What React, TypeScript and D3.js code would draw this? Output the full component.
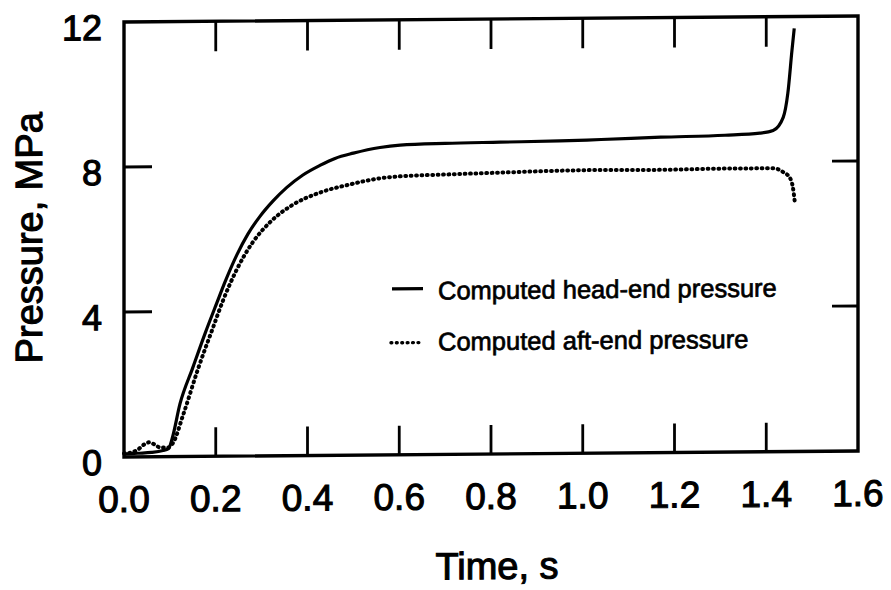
import React from "react";
import * as d3 from "d3";

const headT = [0, 0.03, 0.06, 0.085, 0.097, 0.105, 0.122, 0.15, 0.177, 0.203, 0.22, 0.246, 0.27, 0.296, 0.325, 0.355, 0.39, 0.427, 0.46, 0.5, 0.558, 0.602, 0.7, 0.82, 0.95, 1.04, 1.17, 1.31, 1.386, 1.415, 1.437, 1.447, 1.456, 1.461];
const headP = [0.08, 0.1, 0.12, 0.17, 0.22, 0.5, 1.45, 2.45, 3.4, 4.25, 4.8, 5.55, 6.12, 6.6, 7.03, 7.4, 7.74, 8.0, 8.19, 8.33, 8.48, 8.54, 8.58, 8.6, 8.62, 8.65, 8.7, 8.74, 8.79, 8.86, 9.22, 9.88, 11.06, 11.67];

const aftT = [0, 0.015, 0.03, 0.045, 0.055, 0.065, 0.08, 0.095, 0.107, 0.129, 0.161, 0.194, 0.216, 0.246, 0.281, 0.318, 0.368, 0.427, 0.493, 0.558, 0.602, 0.7, 0.82, 0.95, 1.04, 1.17, 1.3, 1.39, 1.415, 1.437, 1.452, 1.458, 1.463];
const aftP = [0.1, 0.12, 0.2, 0.35, 0.4, 0.35, 0.25, 0.25, 0.38, 1.15, 2.4, 3.55, 4.3, 5.15, 5.9, 6.44, 6.92, 7.25, 7.47, 7.63, 7.68, 7.72, 7.76, 7.8, 7.81, 7.8, 7.82, 7.82, 7.82, 7.71, 7.54, 7.29, 6.8];

const xTicks = [0.0, 0.2, 0.4, 0.6, 0.8, 1.0, 1.2, 1.4, 1.6];
const yTicks = [0, 4, 8, 12];
const legendLabels = ["Computed head-end pressure", "Computed aft-end pressure"];
const xTitle = "Time, s";
const yTitle = "Pressure, MPa";

const W = 891, H = 590;
const L = 124, R = 858, T = 22, B = 457;
const FONT = "'Liberation Sans', Arial, Helvetica, sans-serif";

export default function App() {
  const x = d3.scaleLinear().domain([0, 1.6]).range([L, R]);
  const y = d3.scaleLinear().domain([0, 12]).range([B, T]);
  const line = d3.line<[number, number]>().x(d => x(d[0])).y(d => y(d[1])).curve(d3.curveMonotoneX);
  const head = line(headT.map((t, i) => [t, headP[i]]) as [number, number][]) || "";
  const aft = line(aftT.map((t, i) => [t, aftP[i]]) as [number, number][]) || "";
  const inner = xTicks.slice(1, -1);
  const innerY = yTicks.slice(1, -1);
  const textStyle = { fill: "#000", stroke: "#000", strokeWidth: 1.1, fontFamily: FONT } as any;
  const dots = "0.8 4.6";
  return (
    <svg width={W} height={H} style={{ position: "absolute", left: 0, top: 0, background: "#fff" }}>
      <rect x={0} y={0} width={W} height={H} fill="#fff" />
      <g transform={`translate(${L},0) skewY(-0.47) translate(${-L},0)`}>
        <rect x={L} y={T} width={R - L} height={B - T} fill="none" stroke="#000" strokeWidth={3.4} />
        {inner.map(t => (
          <g key={"xt" + t}>
            <line x1={x(t)} x2={x(t)} y1={B} y2={B - 29} stroke="#000" strokeWidth={2.8} />
            <line x1={x(t)} x2={x(t)} y1={T} y2={T + 30} stroke="#000" strokeWidth={2.8} />
          </g>
        ))}
        {innerY.map(v => (
          <g key={"yt" + v}>
            <line x1={L} x2={L + 28} y1={y(v)} y2={y(v)} stroke="#000" strokeWidth={2.8} />
            <line x1={R} x2={R - 26} y1={y(v)} y2={y(v)} stroke="#000" strokeWidth={2.8} />
          </g>
        ))}
        {xTicks.map(t => (
          <text key={"xl" + t} x={x(t)} y={B + 55} textAnchor="middle" fontSize={37} style={textStyle}>
            {t.toFixed(1)}
          </text>
        ))}
        {yTicks.map(v => (
          <text key={"yl" + v} x={102} y={y(v) + 18} textAnchor="end" fontSize={36} style={textStyle}>
            {v}
          </text>
        ))}
        <path d={head} fill="none" stroke="#000" strokeWidth={3.2} strokeLinejoin="round" />
        <path d={aft} fill="none" stroke="#000" strokeWidth={4} strokeDasharray={dots} strokeLinecap="round" />
        <line x1={392} x2={423} y1={291} y2={291} stroke="#000" strokeWidth={3.2} />
        <line x1={391} x2={423} y1={345} y2={345} stroke="#000" strokeWidth={3.4} strokeDasharray={dots} strokeLinecap="round" />
        <text x={438} y={302} fontSize={25.5} style={{ ...textStyle, strokeWidth: 0.7 }}>{legendLabels[0]}</text>
        <text x={438} y={353} fontSize={25.5} style={{ ...textStyle, strokeWidth: 0.7 }}>{legendLabels[1]}</text>
        <text x={497} y={582} textAnchor="middle" fontSize={38} style={textStyle}>{xTitle}</text>
        <text transform={`translate(42,237) rotate(-90)`} textAnchor="middle" fontSize={38} style={textStyle}>{yTitle}</text>
      </g>
    </svg>
  );
}
